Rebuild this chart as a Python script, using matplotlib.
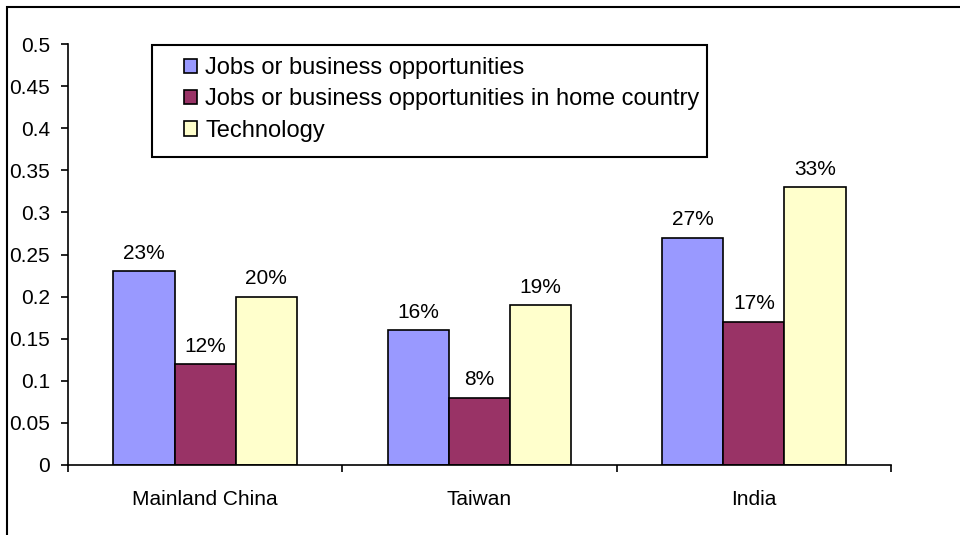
import matplotlib.pyplot as plt
import numpy as np
from matplotlib.patches import Rectangle

plt.rcParams['font.family'] = ['Liberation Sans', 'DejaVu Sans']

regions = ['Mainland China', 'Taiwan', 'India']
series_names = ['Jobs or business opportunities',
                'Jobs or business opportunities in home country',
                'Technology']
jobs = [0.23, 0.16, 0.27]
jobs_home = [0.12, 0.08, 0.17]
technology = [0.20, 0.19, 0.33]
yticks = [0, 0.05, 0.1, 0.15, 0.2, 0.25, 0.3, 0.35, 0.4, 0.45, 0.5]

colors = ['#9999ff', '#993366', '#ffffcc']
W, H = 960, 535

fig = plt.figure(figsize=(9.6, 5.35), dpi=100)
# outer frame, only top and left edges fall inside the canvas
fig.patches.append(Rectangle((6.5 / W, -0.1), 1.2, 1.1 - 7.5 / H,
                             transform=fig.transFigure, fill=False,
                             edgecolor='black', linewidth=1.5))

ax = fig.add_axes([68 / W, 70 / H, 823 / W, 421 / H])

x = np.arange(len(regions))
w = 0.223
for i, vals in enumerate([jobs, jobs_home, technology]):
    pos = x + (i - 1) * w
    ax.bar(pos, vals, width=w, color=colors[i], edgecolor='black',
           linewidth=1.2, label=series_names[i])
    for p, v in zip(pos, vals):
        ax.text(p, v + 0.01, '%d%%' % round(v * 100), ha='center',
                va='bottom', fontsize=15)

ax.set_xlim(-0.5, 2.5)
ax.set_ylim(0, 0.5)
ax.set_yticks(yticks)
ax.set_yticklabels(['%g' % t for t in yticks], fontsize=15)
ax.set_xticks(x)
ax.set_xticklabels(regions, fontsize=15)
ax.tick_params(axis='x', length=0, pad=18)
ax.set_xticks([-0.5, 0.5, 1.5, 2.5], minor=True)
ax.tick_params(axis='x', which='minor', length=5, width=1.2, direction='out')
ax.tick_params(axis='y', length=5, width=1.2, direction='out', pad=8)
ax.spines['top'].set_visible(False)
ax.spines['right'].set_visible(False)
for s in ['left', 'bottom']:
    ax.spines[s].set_linewidth(1.2)

leg = ax.legend(loc='upper left', bbox_to_anchor=(184 / W, 1 - 57 / H),
                bbox_transform=fig.transFigure,
                fontsize=17, frameon=False,
                handlelength=0.55, handleheight=0.55, handletextpad=0.34,
                borderpad=0, labelspacing=0.4, borderaxespad=0)
for h in leg.legend_handles:
    h.set_linewidth(1.2)

# legend box drawn around the entries
fig.canvas.draw()
bb = leg.get_window_extent()
fig.patches.append(Rectangle((152 / W, 1 - 157 / H), (bb.x1 + 8 - 152) / W,
                             112 / H, transform=fig.transFigure, fill=False,
                             edgecolor='black', linewidth=1.5, zorder=5))

fig.savefig('out.png', dpi=100)
